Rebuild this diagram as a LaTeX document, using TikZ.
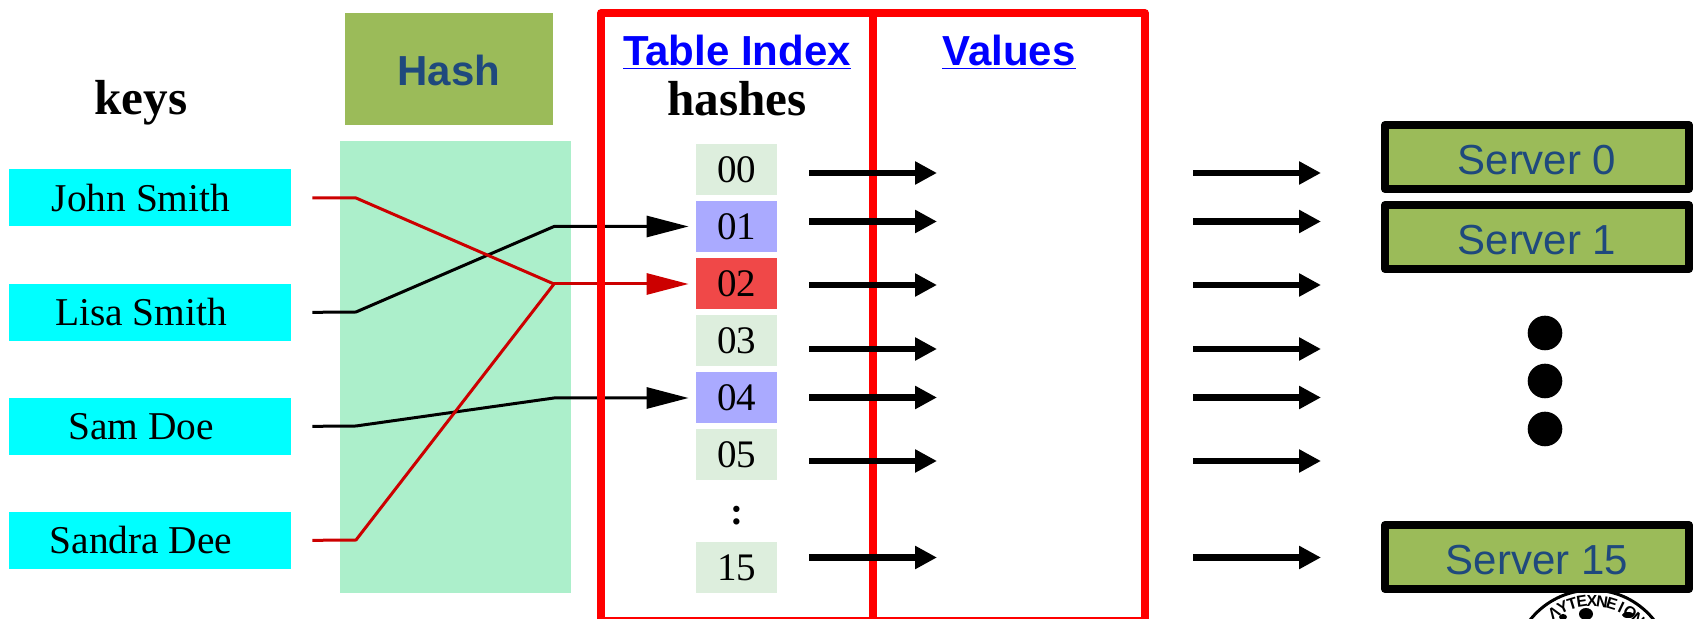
\documentclass[tikz,border=0pt]{standalone}
\usepackage{fontspec}
\setmainfont{Liberation Serif}
\setsansfont{Liberation Sans}
\usetikzlibrary{arrows.meta}
\definecolor{hashgreen}{HTML}{9BBB59}
\definecolor{hashblue}{HTML}{1F497D}
\definecolor{keycyan}{HTML}{00FFFF}
\definecolor{mintbox}{HTML}{ACEFCB}
\definecolor{cellgreen}{HTML}{DDEEDD}
\definecolor{cellblue}{HTML}{AAAAFF}
\definecolor{cellred}{HTML}{F04848}
\definecolor{linkred}{HTML}{CC0000}
\newcommand{\keyname}[1]{#1\hspace*{9pt}}
\tikzset{
	keybox/.style={rectangle, fill=keycyan, minimum width=141pt, minimum height=28.5pt, inner sep=0pt, font=\fontsize{19.7}{22}\selectfont},
	hashbox/.style={rectangle, fill=hashgreen, text=hashblue, minimum width=104pt, minimum height=56pt, inner sep=0pt, text height=17pt, text depth=0pt, font=\sffamily\bfseries\fontsize{21}{24}\selectfont},
	cellbox/.style={rectangle, minimum width=40.5pt, minimum height=25.5pt, inner sep=0pt, font=\fontsize{19.5}{22}\selectfont},
	serverbox/.style={rectangle, draw=black, line width=4pt, line join=round, fill=hashgreen, text=hashblue, minimum width=152pt, minimum height=32pt, inner sep=0pt, text height=18pt, text depth=0pt, font=\sffamily\fontsize{21}{24}\selectfont},
	columnbox/.style={rectangle, draw=red, line width=3.75pt, line join=round, minimum width=136pt, minimum height=304pt, inner sep=0pt},
	headlabel/.style={text=blue, inner sep=0pt, font=\sffamily\bfseries\fontsize{21}{24}\selectfont},
	boldlabel/.style={inner sep=0pt, font=\bfseries\fontsize{24.6}{28}\selectfont},
	dotnode/.style={circle, fill=black, minimum size=17.3pt, inner sep=0pt},
	linkblack/.style={draw=black, line width=1.5pt, line join=round, -{Triangle[length=21pt,width=10.5pt]}, shorten >=3.5pt},
	linkred/.style={draw=linkred, line width=1.5pt, line join=round},
	fatarrow/.style={draw=black, line width=3.2pt, -{Triangle[length=11pt,width=11pt]}},
	sealletter/.style={inner sep=0pt, font=\sffamily\bfseries\fontsize{8}{9}\selectfont}
}
\begin{document}
\begin{tikzpicture}[x=0.5pt,y=-0.5pt]
	\useasboundingbox (0,0) rectangle (1694,619);
	\clip (0,0) rectangle (1694,619);

	\node[hashbox] (hash) at (449,69) {Hash};
	\fill[mintbox] (340,141) rectangle (571,593);
	\node[boldlabel] (keys) at (141,103) {keys};
	\foreach \nm/\txt/\yy in {john/John Smith/198,lisa/Lisa Smith/312.5,sam/Sam Doe/426.5,sandra/Sandra Dee/540.5}
		\node[keybox] (\nm) at (150,\yy) {\keyname{\txt}};

	\node[cellbox, fill=cellgreen] (c00) at (736.5,169.5) {00};
	\node[cellbox, fill=cellblue] (c01) at (736.5,226.5) {01};
	\node[cellbox, fill=cellred] (c02) at (736.5,284) {02};
	\node[cellbox, fill=cellgreen] (c03) at (736.5,341) {03};
	\node[cellbox, fill=cellblue] (c04) at (736.5,398) {04};
	\node[cellbox, fill=cellgreen] (c05) at (736.5,455) {05};
	\node[boldlabel, font=\bfseries\fontsize{19.5}{22}\selectfont] (cdots) at (736.5,516) {:};
	\node[cellbox, fill=cellgreen] (c15) at (736.5,568) {15};

	\coordinate (bendjohn) at (356,198);
	\coordinate (bendlisa) at (356,312);
	\coordinate (bendsam) at (356,426);
	\coordinate (bendsandra) at (356,540);
	\coordinate (joinone) at (554,226.5);
	\coordinate (jointwo) at (554,284);
	\coordinate (joinfour) at (554,398);
	\draw[linkblack, shorten <=10.5pt] (lisa.east) -- (bendlisa) -- (joinone) -- (c01.west);
	\draw[linkblack, shorten <=10.5pt] (sam.east) -- (bendsam) -- (joinfour) -- (c04.west);
	\draw[linkred, shorten <=10.5pt] (john.east) -- (bendjohn) -- (jointwo);
	\draw[linkred, shorten <=10.5pt] (sandra.east) -- (bendsandra) -- (jointwo);
	\draw[linkred, -{Triangle[length=21pt,width=10.5pt]}, shorten >=3.5pt] (jointwo) -- (c02.west);

	\node[columnbox] (indexcol) at (737,317) {};
	\node[columnbox] (valuecol) at (1009,317) {};
	\node[headlabel] (indexhead) at (737,52) {\underline{Table Index}};
	\node[headlabel] (valuehead) at (1009,52) {\underline{Values}};
	\node[boldlabel] (hashes) at (737,99) {hashes};

	\foreach \yy [count=\k] in {173,221.5,285,349,397.5,461,557.5}{
		\coordinate (outa\k) at (809,\yy);
		\coordinate (enda\k) at (937,\yy);
		\coordinate (outb\k) at (1193,\yy);
		\coordinate (endb\k) at (1321,\yy);
		\draw[fatarrow] (outa\k) -- (enda\k);
		\draw[fatarrow] (outb\k) -- (endb\k);
	}

	\node[serverbox] (server0) at (1537,157) {Server 0};
	\node[serverbox] (server1) at (1537,237) {Server 1};
	\node[serverbox] (server15) at (1537,557) {Server 15};
	\node[dotnode] (dota) at (1545,333) {};
	\node[dotnode] (dotb) at (1545,381) {};
	\node[dotnode] (dotc) at (1545,429) {};

	\coordinate (seal) at (1592,669);
	\draw[line width=1.5pt] (seal) circle (79);
	\foreach \ch [count=\k] in {Λ,Υ,Τ,Ε,Χ,Ν,Ε,Ι,Ο,Ν}
		\node[sealletter, rotate={(5-\k)*8.5}] (sl\k) at ({1592+68*cos(90+(5-\k)*8.5)},{669-68*sin(90+(5-\k)*8.5)}) {\ch};
	\fill (1586,614) ellipse (7 and 6);
	\fill (1563,617) ellipse (4 and 3);
	\fill (1628,615) ellipse (6 and 3);
\end{tikzpicture}
\end{document}
